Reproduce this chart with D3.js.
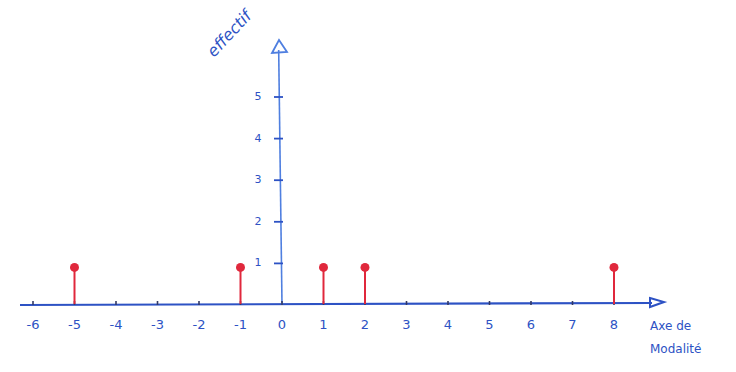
<!DOCTYPE html>
<html>
<head>
<meta charset="utf-8">
<script src="https://cdn.jsdelivr.net/npm/d3@7"></script>
<style>
  body { margin: 0; background: #fff; }
  svg { display: block; }
</style>
</head>
<body>
<svg id="chart" width="736" height="372"></svg>
<script>
// Data
const modalites = [-5, -1, 1, 2, 8];
const effectifs = [1, 1, 1, 1, 1];
const xTicks = [-6, -5, -4, -3, -2, -1, 0, 1, 2, 3, 4, 5, 6, 7, 8];
const yTicks = [1, 2, 3, 4, 5];

const blue = "#2d52c4";
const lightBlue = "#4f7fe0";
const red = "#e0283c";
const font = "'DejaVu Sans', sans-serif";

const svg = d3.select("#chart");

const x = d3.scaleLinear().domain([0, 8]).range([282, 614]);
const y = d3.scaleLinear().domain([0, 5]).range([305, 97]);

const data = modalites.map((m, i) => ({ m: m, e: effectifs[i] }));

// X axis line + arrow
svg.append("line")
    .attr("x1", 20).attr("x2", 652)
    .attr("y1", y(0)).attr("y2", y(0) - 2)
    .attr("stroke", blue).attr("stroke-width", 2.2);
svg.append("path")
    .attr("d", `M650,${y(0) - 7} L664,${y(0) - 3} L650,${y(0) + 2} Z`)
    .attr("fill", "none").attr("stroke", blue).attr("stroke-width", 2);

// Y axis line + arrow
svg.append("line")
    .attr("x1", x(0)).attr("x2", x(-0.08))
    .attr("y1", y(0)).attr("y2", 50)
    .attr("stroke", lightBlue).attr("stroke-width", 1.6);
svg.append("path")
    .attr("d", `M272,53 L279,40 L287,52 Z`)
    .attr("fill", "none").attr("stroke", lightBlue).attr("stroke-width", 1.8);

// X ticks
svg.selectAll(".xtick")
    .data(xTicks)
    .enter()
    .append("line")
    .attr("class", "xtick")
    .attr("x1", d => x(d)).attr("x2", d => x(d))
    .attr("y1", y(0) - 4).attr("y2", y(0))
    .attr("stroke", "#333a66").attr("stroke-width", 1.6);

svg.selectAll(".xlabel")
    .data(xTicks)
    .enter()
    .append("text")
    .attr("class", "xlabel")
    .attr("x", d => x(d))
    .attr("y", 329)
    .attr("text-anchor", "middle")
    .attr("fill", blue)
    .style("font-family", font)
    .style("font-size", "13px")
    .text(d => d < 0 ? "-" + Math.abs(d) : d);

// Y ticks
svg.selectAll(".ytick")
    .data(yTicks)
    .enter()
    .append("line")
    .attr("class", "ytick")
    .attr("x1", d => x(0) - 8).attr("x2", d => x(0) + 1)
    .attr("y1", d => y(d)).attr("y2", d => y(d))
    .attr("stroke", blue).attr("stroke-width", 1.8);

svg.selectAll(".ylabel")
    .data(yTicks)
    .enter()
    .append("text")
    .attr("class", "ylabel")
    .attr("x", d => x(0) - 24)
    .attr("y", d => y(d))
    .attr("text-anchor", "middle")
    .attr("dominant-baseline", "middle")
    .attr("fill", blue)
    .style("font-family", font)
    .style("font-size", "11px")
    .text(d => d);

// Stems
svg.selectAll(".stem")
    .data(data)
    .enter()
    .append("line")
    .attr("class", "stem")
    .attr("x1", d => x(d.m)).attr("x2", d => x(d.m))
    .attr("y1", y(0) - 1).attr("y2", d => y(d.e) + 4)
    .attr("stroke", red).attr("stroke-width", 2);

svg.selectAll(".dot")
    .data(data)
    .enter()
    .append("circle")
    .attr("class", "dot")
    .attr("cx", d => x(d.m))
    .attr("cy", d => y(d.e) + 4)
    .attr("r", 4.5)
    .attr("fill", red);

// Axis titles
svg.append("text")
    .attr("transform", "translate(214,58) rotate(-47)")
    .attr("fill", blue)
    .style("font-family", font)
    .style("font-size", "16px")
    .style("font-style", "italic")
    .text("effectif");

svg.append("text")
    .attr("x", 650).attr("y", 330)
    .attr("fill", blue)
    .style("font-family", font)
    .style("font-size", "12px")
    .text("Axe de");
svg.append("text")
    .attr("x", 650).attr("y", 353)
    .attr("fill", blue)
    .style("font-family", font)
    .style("font-size", "12px")
    .text("Modalité");
</script>
</body>
</html>
